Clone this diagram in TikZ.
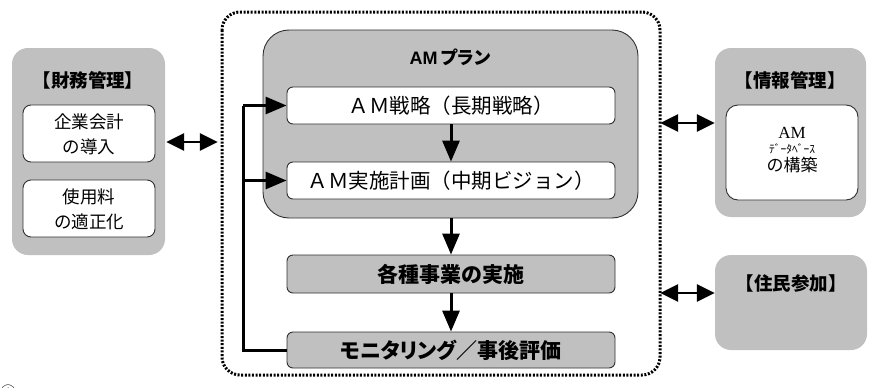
\documentclass[tikz,border=0pt]{standalone}
\usepackage{fontspec}
\setmainfont{Liberation Serif}
\setsansfont{Liberation Sans}
\newfontfamily\jp{Noto Sans CJK JP}
\newfontfamily\jpp[RawFeature=+palt]{Noto Sans CJK JP}
\usetikzlibrary{arrows.meta,calc}
\definecolor{boxgray}{HTML}{C0C0C0}
\definecolor{edge}{HTML}{303030}
\begin{document}
\begin{tikzpicture}[x=1pt,y=-1pt,
  graybox/.style={draw=none,fill=boxgray,rounded corners=16pt},
  whitebox/.style={draw=edge,line width=0.9pt,fill=white,rounded corners=8pt},
  stepbox/.style={draw=edge,line width=0.9pt,rounded corners=6pt},
  ttl/.style={font=\jp\bfseries\fontsize{18.5}{20}\selectfont},
  body/.style={font=\jp\fontsize{17.5}{25}\selectfont,align=center},
  flow/.style={line width=3pt,-{Triangle[length=21pt,width=17pt]}},
  both/.style={line width=2.6pt,{Triangle[length=18pt,width=17pt]}-{Triangle[length=18pt,width=17pt]}}
]
\useasboundingbox (0,0) rectangle (871,388);
% left group
\draw[graybox] (12,48) rectangle (165,255);
\node (lbox) at (88.5,151.5) [minimum width=153pt,minimum height=207pt,inner sep=0pt] {};
\node[ttl] (ltitle) at (88,80) {【財務管理】};
\draw[whitebox] (23,105) rectangle (155,162);
\node[body] (l1) at (89,134) {企業会計\\の導入};
\draw[whitebox] (23,180) rectangle (155,237);
\node[body] (l2) at (89,209) {使用料\\の適正化};
% dotted frame
\draw[line width=3pt,dash pattern=on 2pt off 1.6pt,rounded corners=18pt] (222,12) rectangle (660,375);
\node (frame) at (441,193.5) [minimum width=438pt,minimum height=363pt,inner sep=0pt] {};
% AM plan
\draw[stepbox,fill=boxgray,rounded corners=26pt] (263,30) rectangle (638,218);
\node (plan) at (450.5,124) [minimum width=375pt,minimum height=188pt,inner sep=0pt] {};
\node[font=\sffamily\bfseries\fontsize{18}{20}\selectfont] (plantitle) at (450,57) {AM\,{\jpp\bfseries プラン}};
\node[stepbox,fill=white,minimum width=328pt,minimum height=37pt,font=\jp\fontsize{20.5}{22}\selectfont] (s1) at (451,105.5) {ＡＭ戦略（長期戦略）};
\node[stepbox,fill=white,minimum width=328pt,minimum height=37pt,font=\jp\fontsize{20.5}{22}\selectfont] (s2) at (451,180.5) {ＡＭ実施計画（中期ビジョン）};
\node[stepbox,fill=boxgray,minimum width=328pt,minimum height=38pt,font=\jp\bfseries\fontsize{21}{22}\selectfont] (e1) at (451,274) {各種事業の実施};
\node[stepbox,fill=boxgray,minimum width=328pt,minimum height=36pt,font=\jpp\bfseries\fontsize{21}{22}\selectfont] (e2) at (451,350) {モニタリング／事後評価};
\draw[flow] (s1.south) -- (s2.north);
\draw[flow] (plan.south -| s1.south) -- (e1.north);
\draw[flow] (e1.south) -- (e2.north);
% feedback loop
\coordinate (fb) at (243,350);
\draw[line width=3pt] (e2.west) -- (fb) -- (fb |- s1.west);
\draw[flow] (fb |- s1.west) -- (s1.west);
\draw[flow] (fb |- s2.west) -- (s2.west);
% right groups
\draw[graybox] (715,48) rectangle (866,217);
\node (rbox1) at (790.5,132.5) [minimum width=151pt,minimum height=169pt,inner sep=0pt] {};
\node[ttl] (rtitle1) at (790,80) {【情報管理】};
\draw[whitebox,rounded corners=12pt] (726,105) rectangle (858,200);
\node[align=center,inner sep=0pt] (r1) at (792,150) {{\fontsize{17}{17}\selectfont AM}\\[3pt]{\jp\fontsize{11.5}{12}\selectfont ﾃﾞｰﾀﾍﾞｰｽ}\\[2pt]{\jp\fontsize{17}{17}\selectfont の構築}};
\draw[graybox] (715,255) rectangle (867,350);
\node (rbox2) at (791,302.5) [minimum width=152pt,minimum height=95pt,inner sep=0pt] {};
\node[ttl] (rtitle2) at (791,283) {【住民参加】};
% double arrows
\draw[both,shorten <=1pt,shorten >=4pt] (lbox.east |- 0,142) -- (frame.west |- 0,142);
\draw[both] (frame.east |- 0,123) -- (rbox1.west |- 0,123);
\draw[both] (frame.east |- 0,293) -- (rbox2.west |- 0,293);
% partial mark at bottom-left
\node[font=\jp\fontsize{16}{16}\selectfont,inner sep=0pt] (mark) at (8,392) {①};
\end{tikzpicture}
\end{document}
